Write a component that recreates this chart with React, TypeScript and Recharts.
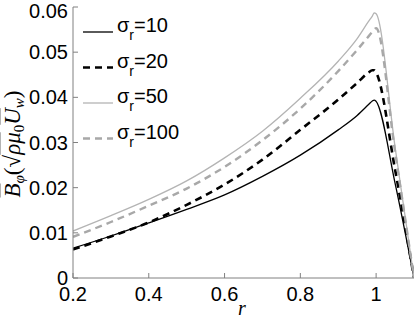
import React from 'react'
import { LineChart, Line, XAxis, YAxis } from 'recharts'

const radius = [0.2, 0.3, 0.4, 0.5, 0.6, 0.7, 0.8, 0.9, 0.95, 0.98, 0.99, 0.995, 1.0, 1.05, 1.1]
const sigma10 = [0.0066, 0.0093, 0.0122, 0.0152, 0.0184, 0.0225, 0.0272, 0.0328, 0.036, 0.0384, 0.0392, 0.0394, 0.0391, 0.021, 0]
const sigma20 = [0.0063, 0.0092, 0.0123, 0.0162, 0.0207, 0.0262, 0.0328, 0.0395, 0.0432, 0.0455, 0.046, 0.046, 0.0455, 0.024, 0]
const sigma50 = [0.0104, 0.0138, 0.0174, 0.0215, 0.0266, 0.0325, 0.0398, 0.048, 0.053, 0.0568, 0.058, 0.0587, 0.0585, 0.029, 0]
const sigma100 = [0.0091, 0.0124, 0.016, 0.0198, 0.0246, 0.0305, 0.0375, 0.0458, 0.0505, 0.0535, 0.0545, 0.055, 0.0553, 0.028, 0]

const xTicks = [0.2, 0.4, 0.6, 0.8, 1]
const yTicks = [0, 0.01, 0.02, 0.03, 0.04, 0.05, 0.06]
const legendLabels = ['10', '20', '50', '100']

const data = radius.map((r, i) => ({ r, s10: sigma10[i], s20: sigma20[i], s50: sigma50[i], s100: sigma100[i] }))

const FRAME = '#808080'
const SANS = '"Liberation Sans", Arial, sans-serif'
const SERIF = '"Liberation Serif", "Times New Roman", serif'

const series = [
  { key: 's10', stroke: '#000000', width: 1.3, dash: undefined },
  { key: 's20', stroke: '#000000', width: 2.6, dash: '7 5' },
  { key: 's50', stroke: '#b4b4b4', width: 1.3, dash: undefined },
  { key: 's100', stroke: '#a8a8a8', width: 2.4, dash: '7 5' },
]

// y tick labels; the top one sits a little lower so it isn't clipped
function YTick(props: any) {
  const { x, y, payload } = props
  const shift = payload.value === 0.06 ? 4 : 0
  return (
    <text x={x} y={y + shift} dy="0.355em" textAnchor="end" fontFamily={SANS} fontSize={20} fill="#000">
      {String(payload.value)}
    </text>
  )
}

// legend + axis titles drawn as an overlay so they don't eat plot space
function Overlay() {
  return (
    <svg width={415} height={318} style={{ position: 'absolute', left: 0, top: 0, pointerEvents: 'none' }}>
      {series.map((s, i) => {
        const y = 32 + i * 35.5
        return (
          <g key={s.key}>
            <line x1={83} x2={113} y1={y} y2={y} stroke={s.stroke} strokeWidth={s.width} strokeDasharray={s.dash} />
            <text x={117} y={y} fontFamily={SANS} fontSize={20} fill="#000">
              σ<tspan fontSize={14} dy={8}>r</tspan><tspan dy={-8}>={legendLabels[i]}</tspan>
            </text>
          </g>
        )
      })}
      <text transform="translate(20,144) rotate(-90)" textAnchor="middle" fontFamily={SERIF} fontSize={23} fill="#000">
        <tspan fontStyle="italic" style={{ textDecoration: 'overline' }}>B</tspan>
        <tspan fontStyle="italic" fontSize={15} dy={4}>φ</tspan>
        <tspan dy={-4}>(√</tspan>
        <tspan fontStyle="italic" style={{ textDecoration: 'overline' }}>ρμ</tspan>
        <tspan fontSize={15} dy={4}>0</tspan>
        <tspan fontStyle="italic" dy={-4} style={{ textDecoration: 'overline' }}>U</tspan>
        <tspan fontStyle="italic" fontSize={15} dy={4}>w</tspan>
        <tspan dy={-4}>)</tspan>
      </text>
      <text x={242} y={315} textAnchor="middle" fontFamily={SERIF} fontStyle="italic" fontSize={20} fill="#000">
        r
      </text>
    </svg>
  )
}

export default function App() {
  return (
    <div style={{ position: 'absolute', left: 0, top: 0, width: 415, height: 318, background: '#fff' }}>
      <LineChart width={415} height={318} data={data} margin={{ top: 7, right: 1, left: 0, bottom: 0 }}>
        <XAxis
          dataKey="r"
          type="number"
          domain={[0.2, 1.1]}
          ticks={xTicks}
          interval={0}
          allowDataOverflow
          height={40}
          stroke={FRAME}
          tickSize={-5}
          tickMargin={14}
          tick={{ fill: '#000', fontSize: 20, fontFamily: SANS }}
          tickFormatter={(v: number) => String(v)}
        />
        <XAxis
          xAxisId="top"
          orientation="top"
          dataKey="r"
          type="number"
          domain={[0.2, 1.1]}
          ticks={xTicks}
          interval={0}
          allowDataOverflow
          mirror
          height={0}
          stroke={FRAME}
          tickSize={5}
          tick={false}
        />
        <YAxis
          type="number"
          domain={[0, 0.06]}
          ticks={yTicks}
          interval={0}
          allowDataOverflow
          width={73}
          stroke={FRAME}
          tickSize={-5}
          tickMargin={10}
          tick={<YTick />}
        />
        <YAxis
          yAxisId="right"
          orientation="right"
          type="number"
          domain={[0, 0.06]}
          ticks={yTicks}
          interval={0}
          allowDataOverflow
          mirror
          width={0}
          stroke={FRAME}
          tickSize={5}
          tick={false}
        />
        {series.map((s) => (
          <Line
            key={s.key}
            dataKey={s.key}
            type="monotone"
            stroke={s.stroke}
            strokeWidth={s.width}
            strokeDasharray={s.dash}
            dot={false}
            activeDot={false}
            isAnimationActive={false}
          />
        ))}
      </LineChart>
      <Overlay />
    </div>
  )
}
